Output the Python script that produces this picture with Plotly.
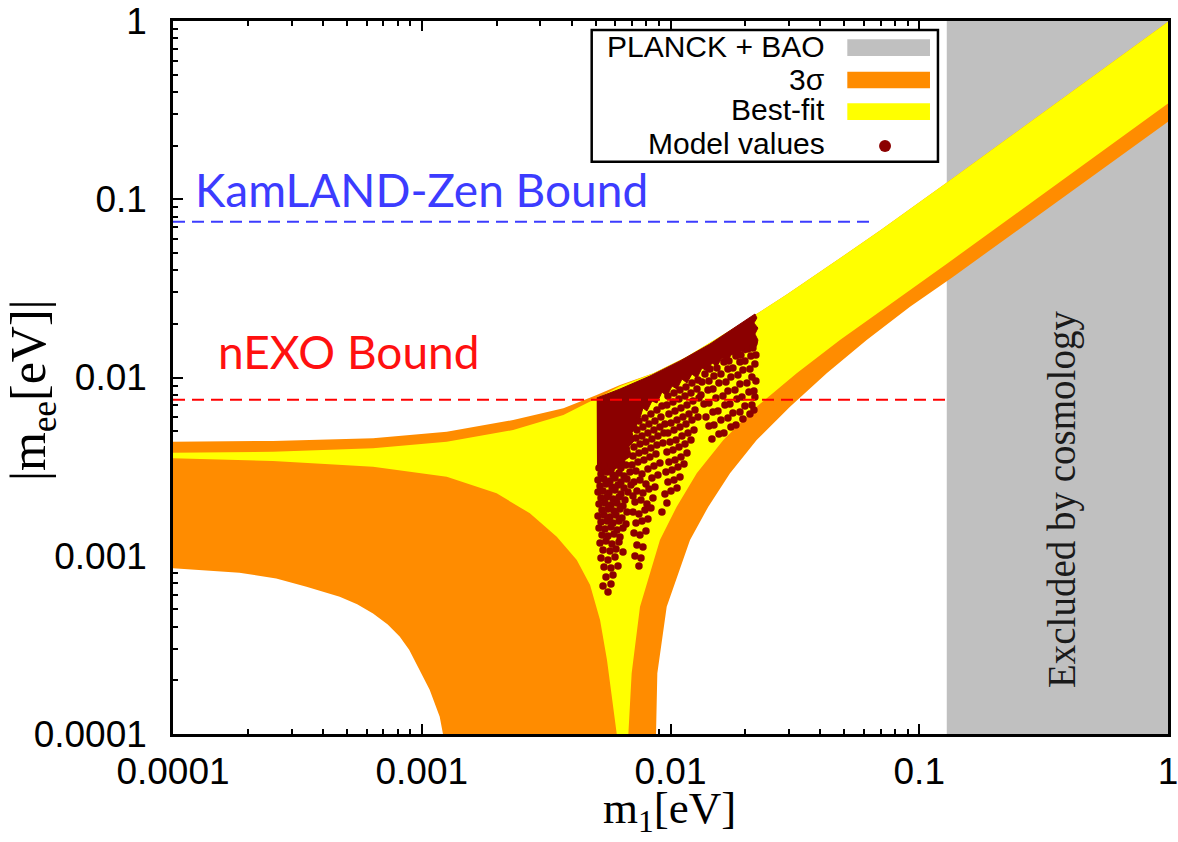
import plotly.graph_objects as go

# ---------------- axis ticks ----------------
decade_vals = [1e-4, 1e-3, 1e-2, 1e-1, 1.0]
decade_text = ["0.0001", "0.001", "0.01", "0.1", "1"]
minor_vals = [m * 10.0 ** e for e in range(-4, 0) for m in range(2, 10)]

# ---------------- cosmology exclusion (PLANCK + BAO) ----------------
cosmo_m1 = [0.129, 1.0]

# ---------------- experimental bounds ----------------
kamland_mee = 0.0748
kamland_m1 = [1e-4, 0.0654]
nexo_mee = 0.0075
nexo_m1 = [1e-4, 0.129]

# ---------------- 3 sigma band boundaries ----------------
s3_upper_m1 = [1.0e-4, 2.52e-4, 6.37e-4, 1.26e-3, 2.33e-3, 3.71e-3, 5.05e-3, 6.27e-3,
               8.53e-3, 1.162e-2, 1.581e-2, 2.152e-2, 2.932e-2, 3.99e-2, 5.431e-2,
               6.954e-2, 0.1296, 1.0]
s3_upper_mee = [0.004364, 0.004404, 0.004560, 0.004965, 0.005776, 0.006718, 0.007976,
                0.009077, 0.01056, 0.01308, 0.01694, 0.02211, 0.02925, 0.03903, 0.05253,
                0.06688, 0.1247, 0.991]
s3_lowright_m1 = [1.0, 0.1370, 0.0918, 0.06147, 0.04246, 0.03023, 0.02220, 0.01735,
                  0.01419, 0.01198, 0.009654, 0.008852, 0.008746]
s3_lowright_mee = [0.2724, 0.03677, 0.02496, 0.01624, 0.01056, 0.006858, 0.004461,
                   0.002901, 0.001885, 0.001226, 0.000518, 0.000219, 0.0001]
s3_lowleft_m1 = [1.0e-4, 1.85e-4, 2.6e-4, 3.44e-4, 4.68e-4, 5.5e-4, 6.37e-4, 7.3e-4,
                 8.15e-4, 8.9e-4, 9.51e-4, 1.076e-3, 1.181e-3, 1.217e-3]
s3_lowleft_mee = [0.000851, 0.000804, 0.000745, 0.000671, 0.000589, 0.000534, 0.000475,
                  0.000412, 0.000352, 0.000297, 0.000249, 0.000177, 0.000125, 0.0001]

# ---------------- best-fit band boundaries ----------------
bf_upper_m1 = [1.0e-4, 2.52e-4, 6.37e-4, 1.26e-3, 2.33e-3, 3.71e-3, 4.60e-3, 5.21e-3,
               6.27e-3, 8.53e-3, 1.162e-2, 1.581e-2, 2.152e-2, 2.932e-2, 3.99e-2,
               5.431e-2, 6.954e-2, 0.1296, 1.0]
bf_upper_mee = [0.003785, 0.003834, 0.004007, 0.004364, 0.005075, 0.006160, 0.007166,
                0.007804, 0.00896, 0.01056, 0.01308, 0.01694, 0.02211, 0.02925, 0.03903,
                0.05253, 0.06688, 0.1247, 0.991]
bf_lowright_m1 = [1.0, 0.1296, 0.1139, 0.07398, 0.04801, 0.03216, 0.02220, 0.01631,
                  0.01275, 0.01059, 0.00907, 0.00754, 0.00698, 0.00677]
bf_lowright_mee = [0.345, 0.04361, 0.03842, 0.02496, 0.01624, 0.01056, 0.006858,
                   0.004461, 0.002901, 0.001885, 0.001226, 0.000518, 0.000219, 0.0001]
bf_lowleft_m1 = [1.0e-4, 2.52e-4, 6.37e-4, 1.26e-3, 2.00e-3, 2.72e-3, 3.49e-3, 4.20e-3,
                 4.75e-3, 5.21e-3, 5.555e-3, 5.82e-3, 6.08e-3]
bf_lowleft_mee = [0.003522, 0.003401, 0.003160, 0.002777, 0.002241, 0.001730, 0.001279,
                  0.000947, 0.000685, 0.000436, 0.000260, 0.000155, 0.0001]

# ---------------- model values: densely covered region (ragged outline) ----------------
model_dense_m1 = [
    0.00505, 0.00627, 0.00827, 0.01092, 0.01441, 0.01817, 0.02186,
    0.022253, 0.021645, 0.022460, 0.021845, 0.022460, 0.022253,
    0.021645, 0.020858, 0.020101, 0.019193, 0.018496, 0.017660, 0.016862, 0.016100,
    0.015373, 0.014678, 0.014015, 0.013382, 0.012777, 0.012200, 0.011649, 0.011122,
    0.010620, 0.010140, 0.009675, 0.009238, 0.008821, 0.008423, 0.008042, 0.007750,
    0.007538, 0.007264, 0.007331, 0.007000, 0.007131, 0.006809, 0.006936, 0.006561,
    0.006382, 0.006094, 0.005818, 0.005555, 0.005304, 0.005064,
]
model_dense_mee = [
    0.00767, 0.00862, 0.01019, 0.01238, 0.01541, 0.01920, 0.02271,
    0.021569, 0.020220, 0.018955, 0.017546, 0.016237, 0.015221,
    0.014270, 0.015026, 0.013727, 0.014087, 0.013036, 0.013551, 0.012379, 0.012868,
    0.011605, 0.012063, 0.010878, 0.011309, 0.009935, 0.010465, 0.009315, 0.009808,
    0.008620, 0.008960, 0.007875, 0.008293, 0.007194, 0.007382, 0.006487, 0.006744,
    0.005927, 0.005776, 0.005208, 0.004947, 0.004404, 0.004128, 0.003628, 0.003445,
    0.003028, 0.003189, 0.002875, 0.003067, 0.002838, 0.003147,
]

# ---------------- model values: individual points ----------------
model_m1 = [
    # lower-left tail
    0.005159, 0.005403, 0.005711, 0.006038, 0.006323, 0.006622,
    0.005255, 0.005555, 0.005872, 0.006208, 0.006501, 0.006872,
    0.005111, 0.005403, 0.005711, 0.005982, 0.006323, 0.006684,
    0.005207, 0.005504, 0.005818, 0.006151, 0.006501, 0.006936,
    0.005111, 0.005354, 0.005659, 0.005982, 0.006323, 0.006746,
    0.005255, 0.005555, 0.005872, 0.006208, 0.006561, 0.007066,
    0.005159, 0.005453, 0.005764, 0.006094, 0.006441,
    0.005304, 0.005607, 0.005926, 0.006265, 0.006684,
    0.005111, 0.005403, 0.005711, 0.006038, 0.006382,
    0.005255, 0.005555, 0.005872, 0.006208, 0.006622,
    0.005159, 0.005453, 0.005764, 0.006094, 0.006441,
    0.005304, 0.005607, 0.005926, 0.006265,
    0.005207, 0.005504, 0.005818, 0.006208,
    0.005354, 0.005711, 0.006038, 0.006441,
    0.005255, 0.005607, 0.005982,
    0.005403, 0.005764, 0.006151,
    0.005504, 0.005872,
    0.005354, 0.005764,
    0.005607,
    # middle
    0.007468, 0.007894, 0.008345, 0.008821, 0.009238,
    0.007331, 0.007750, 0.008192, 0.008659, 0.009153,
    0.007264, 0.007679, 0.008116, 0.008580, 0.009069, 0.009498,
    0.007131, 0.007538, 0.007967, 0.008423, 0.008903, 0.009411,
    0.007066, 0.007468, 0.007894, 0.008345, 0.008821, 0.009324,
    0.007000, 0.007400, 0.007822, 0.008268, 0.008740,
    0.007264, 0.007679, 0.008116, 0.008580, 0.009069,
    0.007131, 0.007538, 0.007967, 0.008423, 0.008903,
    0.007331, 0.007750, 0.008192, 0.008659,
    0.007197, 0.007608, 0.008042, 0.008501,
    0.007066, 0.007468, 0.007894, 0.008345,
    0.007264, 0.007679, 0.008116,
    0.007131, 0.007538, 0.007967,
    0.007331, 0.007750,
    0.007197, 0.007608,
    0.007468,
    0.009766, 0.010330, 0.010918, 0.011541, 0.012200, 0.012896,
    0.009675, 0.010234, 0.010818, 0.011435, 0.012087, 0.012777,
    0.009856, 0.010425, 0.011020, 0.011649, 0.012313, 0.013016,
    0.010047, 0.010620, 0.011226, 0.011866, 0.012543,
    0.009766, 0.010330, 0.010918, 0.011541, 0.012200, 0.012896,
    0.009954, 0.010522, 0.011122, 0.011757, 0.012428,
    0.009675, 0.010234, 0.010818, 0.011435, 0.012087,
    0.009856, 0.010425, 0.011020, 0.011649,
    0.009586, 0.010140, 0.010719, 0.011330,
    0.009766, 0.010330, 0.010918,
    0.009498, 0.010047, 0.010620,
    0.009675, 0.009238,
    # right part
    0.013758, 0.014409, 0.015373, 0.016401, 0.017177, 0.018326, 0.019193, 0.020477, 0.021445,
    0.013382, 0.014277, 0.014952, 0.015952, 0.017019, 0.017824, 0.019016, 0.019916, 0.021052, 0.022048,
    0.013258, 0.014146, 0.014815, 0.015660, 0.016707, 0.017497, 0.018668, 0.019552, 0.020858, 0.021845,
    0.013632, 0.014277, 0.015231, 0.016250, 0.017019, 0.018157, 0.019016, 0.020288, 0.021248,
    0.013886, 0.014815, 0.015516, 0.016553, 0.017336, 0.018496, 0.019371, 0.020667, 0.021645, 0.022048,
    0.014277, 0.014952, 0.015952, 0.017019, 0.017824, 0.019016, 0.019916, 0.021248, 0.021845,
    0.014678, 0.015660, 0.016401, 0.017497, 0.018326, 0.019552, 0.020858, 0.021645,
]
model_mee = [
    # lower-left tail
    0.003107, 0.003189, 0.003067, 0.003230, 0.003107, 0.003230,
    0.002875, 0.002951, 0.002838, 0.002913, 0.002802, 0.002951,
    0.002661, 0.002695, 0.002627, 0.002730, 0.002593, 0.002695,
    0.002462, 0.002527, 0.002430, 0.002494, 0.002399, 0.002494,
    0.002278, 0.002308, 0.002249, 0.002338, 0.002220, 0.002278,
    0.002109, 0.002136, 0.002082, 0.002136, 0.002055, 0.002164,
    0.001951, 0.001977, 0.001926, 0.001977, 0.001901,
    0.001806, 0.001829, 0.001783, 0.001829, 0.001760,
    0.001671, 0.001693, 0.001650, 0.001693, 0.001629,
    0.001547, 0.001567, 0.001527, 0.001567, 0.001507,
    0.001431, 0.001413, 0.001450, 0.001395, 0.001431,
    0.001308, 0.001291, 0.001325, 0.001275,
    0.001179, 0.001210, 0.001164, 0.001195,
    0.001077, 0.001063, 0.001091, 0.001050,
    0.000972, 0.000947, 0.000984,
    0.000865, 0.000854, 0.000877,
    0.000760, 0.000780,
    0.000676, 0.000694,
    0.000627,
    # middle
    0.005702, 0.005927, 0.006241, 0.006572, 0.006920,
    0.005076, 0.005276, 0.005485, 0.005702, 0.006004,
    0.004577, 0.004697, 0.004883, 0.005076, 0.005276, 0.005485,
    0.004075, 0.004236, 0.004347, 0.004518, 0.004697, 0.004883,
    0.003628, 0.003771, 0.003870, 0.004023, 0.004182, 0.004291,
    0.003230, 0.003357, 0.003445, 0.003581, 0.003723,
    0.002989, 0.002875, 0.003067, 0.003189, 0.003314,
    0.002593, 0.002661, 0.002527, 0.002730, 0.002838,
    0.002308, 0.002249, 0.002368, 0.002430,
    0.002003, 0.002055, 0.001951, 0.002109,
    0.001760, 0.001715, 0.001806, 0.001853,
    0.001527, 0.001567, 0.001608,
    0.001342, 0.001308, 0.001377,
    0.001149, 0.001120,
    0.000997, 0.000972,
    0.000877,
    0.007875, 0.008186, 0.008510, 0.008846, 0.009315, 0.009683,
    0.007010, 0.007287, 0.007575, 0.007875, 0.008186, 0.008620,
    0.006241, 0.006487, 0.006744, 0.007010, 0.007382, 0.007674,
    0.005556, 0.005776, 0.006004, 0.006241, 0.006572,
    0.004883, 0.005076, 0.005276, 0.005485, 0.005776, 0.006004,
    0.004347, 0.004461, 0.004697, 0.004883, 0.005076,
    0.003820, 0.003920, 0.004075, 0.004236, 0.004461,
    0.003357, 0.003445, 0.003581, 0.003771,
    0.002951, 0.003028, 0.003147, 0.003272,
    0.002593, 0.002661, 0.002766,
    0.002220, 0.002308, 0.002399,
    0.001977, 0.001760,
    # right part
    0.010465, 0.011164, 0.011309, 0.012220, 0.012379, 0.013205, 0.013377, 0.014455, 0.014642,
    0.009436, 0.009559, 0.010195, 0.010465, 0.011164, 0.011309, 0.012220, 0.012379, 0.013205, 0.013377,
    0.007977, 0.008510, 0.008620, 0.009315, 0.009436, 0.010065, 0.010328, 0.011020, 0.011164, 0.011908,
    0.007101, 0.007194, 0.007674, 0.007875, 0.008401, 0.008510, 0.009195, 0.009315, 0.010065,
    0.006004, 0.006404, 0.006487, 0.007010, 0.007101, 0.007575, 0.007774, 0.008293, 0.008401, 0.009559,
    0.005345, 0.005414, 0.005776, 0.005927, 0.006322, 0.006404, 0.006920, 0.007010, 0.007774,
    0.004518, 0.004820, 0.004883, 0.005276, 0.005414, 0.005851, 0.006241, 0.006572,
]

# ---------------- colours ----------------
GRAY = "#c0c0c0"
ORANGE = "#ff8c00"
YELLOW = "#ffff00"
DARKRED = "#8b0000"

fig = go.Figure()

# cosmology excluded region
fig.add_trace(go.Scatter(
    x=[cosmo_m1[0], cosmo_m1[1], cosmo_m1[1], cosmo_m1[0]],
    y=[1e-5, 1e-5, 10, 10], fill="toself", fillcolor=GRAY,
    line=dict(width=0), mode="lines", hoverinfo="skip", showlegend=False))

# 3 sigma band
s3_x = s3_upper_m1 + s3_lowright_m1 + s3_lowleft_m1[::-1]
s3_y = s3_upper_mee + s3_lowright_mee + s3_lowleft_mee[::-1]
fig.add_trace(go.Scatter(x=s3_x, y=s3_y, fill="toself", fillcolor=ORANGE,
                         line=dict(width=0), mode="lines", hoverinfo="skip",
                         showlegend=False))

# best-fit band
bf_x = bf_upper_m1 + bf_lowright_m1 + bf_lowleft_m1[::-1]
bf_y = bf_upper_mee + bf_lowright_mee + bf_lowleft_mee[::-1]
fig.add_trace(go.Scatter(x=bf_x, y=bf_y, fill="toself", fillcolor=YELLOW,
                         line=dict(width=0), mode="lines", hoverinfo="skip",
                         showlegend=False))

# model values
fig.add_trace(go.Scatter(x=model_dense_m1, y=model_dense_mee, fill="toself",
                         fillcolor=DARKRED, line=dict(width=1, color=DARKRED),
                         mode="lines", hoverinfo="skip", showlegend=False))
fig.add_trace(go.Scatter(x=model_m1, y=model_mee, mode="markers",
                         marker=dict(size=7.5, color=DARKRED, line=dict(width=0)),
                         showlegend=False))

# bounds
fig.add_trace(go.Scatter(x=kamland_m1, y=[kamland_mee, kamland_mee], mode="lines",
                         line=dict(color="#3c3cff", width=2, dash="12px,7px"),
                         showlegend=False))
fig.add_trace(go.Scatter(x=nexo_m1, y=[nexo_mee, nexo_mee], mode="lines",
                         line=dict(color="#ff0000", width=2, dash="12px,7px"),
                         showlegend=False))

axis_common = dict(
    type="log", range=[-4, 0], tickmode="array", tickvals=decade_vals,
    ticktext=decade_text, ticks="inside", ticklen=10, tickwidth=1.5,
    tickcolor="black", showline=True, linecolor="black", linewidth=2.5,
    mirror="ticks", showgrid=False, zeroline=False, layer="below traces",
    automargin=False, ticklabeloverflow="allow",
    tickfont=dict(family="Liberation Sans", size=37, color="black"),
    minor=dict(tickvals=minor_vals, ticks="inside", ticklen=5, tickwidth=1.5,
               tickcolor="black", showgrid=False),
)

fig.update_layout(
    width=1178, height=842,
    margin=dict(l=173, r=10, t=21, b=108),
    paper_bgcolor="white", plot_bgcolor="white",
    font=dict(family="Liberation Sans", color="black"),
    showlegend=False,
    xaxis=dict(axis_common, ticklabelstandoff=3),
    yaxis=dict(axis_common, ticklabelstandoff=16),
)

# ---------------- manual gnuplot-style legend ----------------
shapes = [
    dict(type="rect", xref="paper", yref="paper", x0=0.4208, x1=0.7688, y0=0.8027,
         y1=0.9874, fillcolor="white", line=dict(color="black", width=2.5), layer="above"),
    dict(type="rect", xref="paper", yref="paper", x0=0.6777, x1=0.7608, y0=0.9509,
         y1=0.9743, fillcolor=GRAY, line=dict(width=0), layer="above"),
    dict(type="rect", xref="paper", yref="paper", x0=0.6777, x1=0.7608, y0=0.9056,
         y1=0.9289, fillcolor=ORANGE, line=dict(width=0), layer="above"),
    dict(type="rect", xref="paper", yref="paper", x0=0.6777, x1=0.7608, y0=0.8612,
         y1=0.8846, fillcolor=YELLOW, line=dict(width=0), layer="above"),
    dict(type="circle", xref="paper", yref="paper", x0=0.7156 - 0.006, x1=0.7156 + 0.006,
         y0=0.8247 - 0.0084, y1=0.8247 + 0.0084, fillcolor=DARKRED,
         line=dict(width=0), layer="above"),
]
fig.update_layout(shapes=shapes)

legend_labels = ["PLANCK + BAO", "3σ", "Best-fit", "Model values"]
legend_y = [0.9640, 0.9173, 0.8752, 0.8285]
for lab, ly in zip(legend_labels, legend_y):
    fig.add_annotation(xref="paper", yref="paper", x=0.6570, y=ly, text=lab,
                       showarrow=False, xanchor="right", yanchor="middle",
                       font=dict(family="Liberation Sans", size=30, color="black"))

# bound labels
fig.add_annotation(xref="paper", yref="paper", x=0.020, y=0.763,
                   text="KamLAND-Zen Bound", showarrow=False, xanchor="left",
                   yanchor="middle", font=dict(family="Lato", size=46, color="#3c3cff"))
fig.add_annotation(xref="paper", yref="paper", x=0.043, y=0.536,
                   text="nEXO Bound", showarrow=False, xanchor="left",
                   yanchor="middle", font=dict(family="Lato", size=46, color="#ff1010"))

# cosmology label
fig.add_annotation(xref="paper", yref="paper", x=0.8935, y=0.3282,
                   text="Excluded by cosmology", showarrow=False, textangle=-90,
                   xanchor="center", yanchor="middle",
                   font=dict(family="Liberation Serif", size=39, color="#1a1a1a"))

# axis titles
fig.add_annotation(xref="paper", yref="paper", x=-0.1417, y=0.4825,
                   text="|m<sub>ee</sub>[eV]|", showarrow=False, textangle=-90,
                   xanchor="center", yanchor="middle",
                   font=dict(family="Liberation Serif", size=50, color="black"))
fig.add_annotation(xref="paper", yref="paper", x=0.4985, y=-0.1505,
                   text="m<sub>1</sub>[eV]", showarrow=False,
                   xanchor="center", yanchor="bottom",
                   font=dict(family="Liberation Serif", size=45, color="black"))

fig.write_html("out.html")
